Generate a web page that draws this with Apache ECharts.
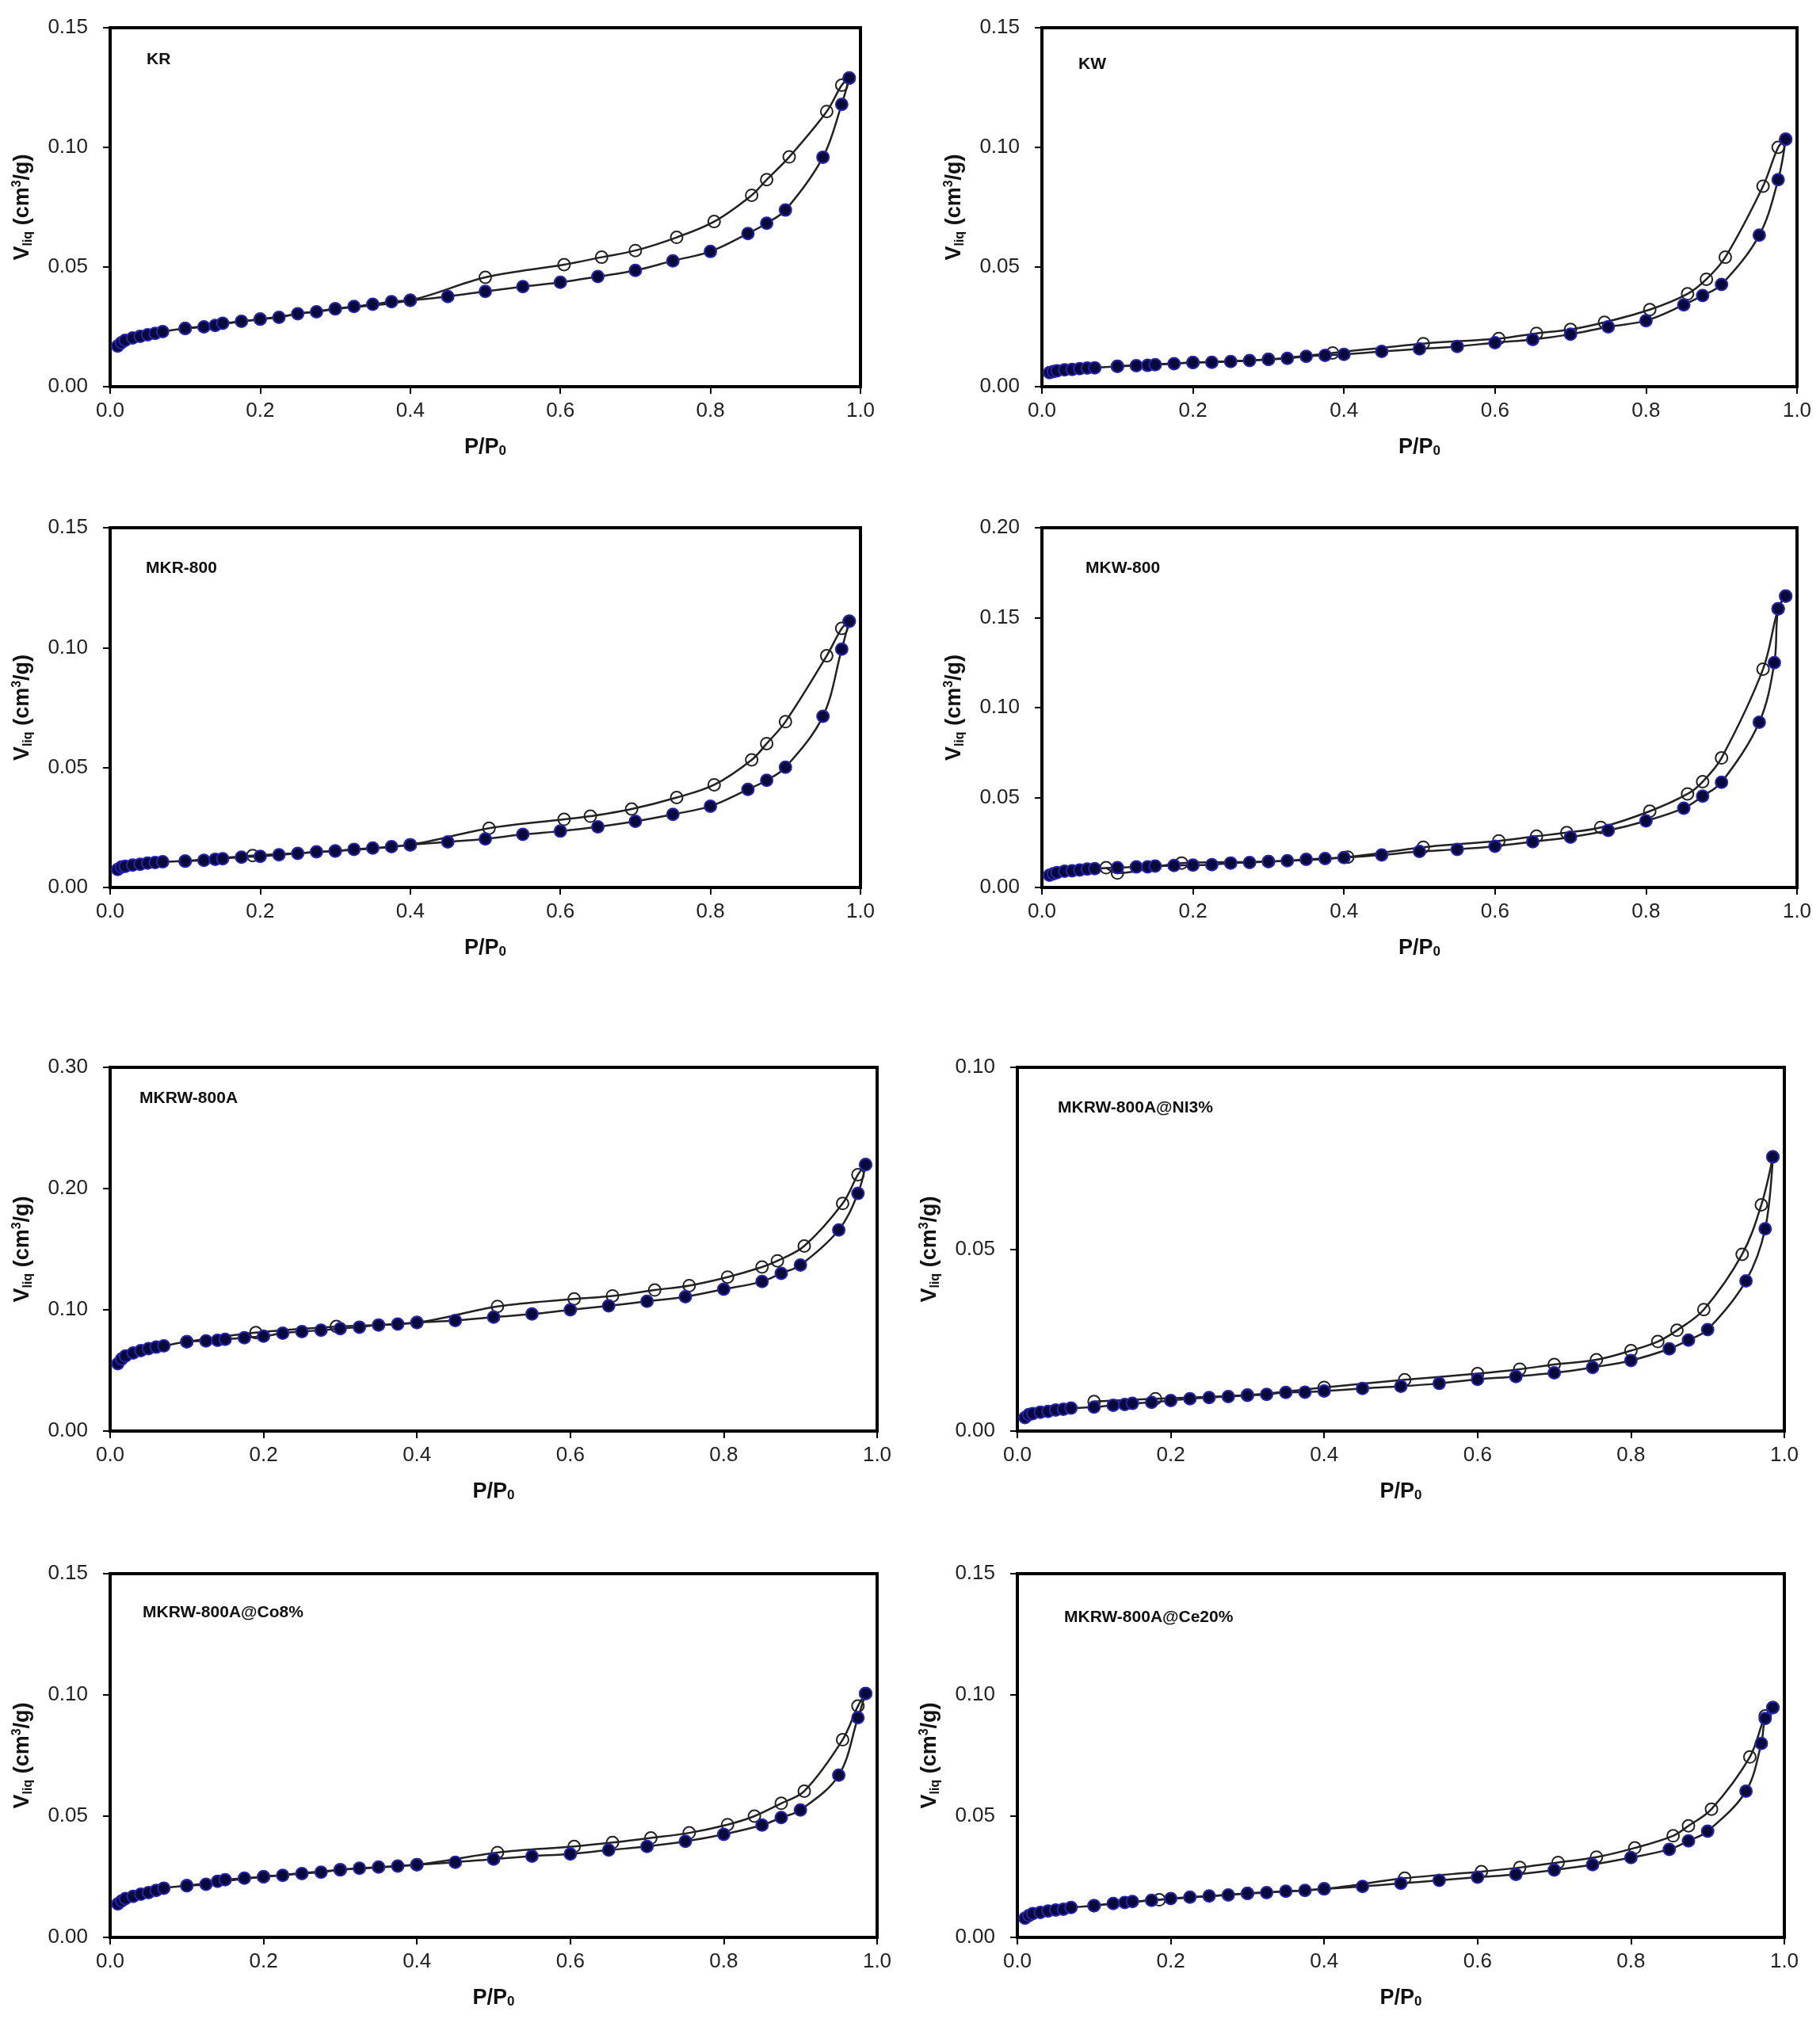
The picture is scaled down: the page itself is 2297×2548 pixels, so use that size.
<!DOCTYPE html>
<html>
<head>
<meta charset="utf-8">
<script src="https://cdn.jsdelivr.net/npm/echarts@6/dist/echarts.min.js"></script>
<style>
  html, body { margin: 0; padding: 0; background: #fff; }
  #chart { width: 2297px; height: 2548px; }
</style>
</head>
<body>
<div id="chart"></div>
<script>
// relative pressure steps used for the adsorption branch
const adsP = [0.01, 0.015, 0.02, 0.03, 0.04, 0.05, 0.06, 0.07, 0.10, 0.125, 0.14, 0.15, 0.175, 0.20, 0.225, 0.25, 0.275, 0.30, 0.325, 0.35, 0.375, 0.40, 0.45, 0.50, 0.55, 0.60, 0.65, 0.70, 0.75, 0.80, 0.85, 0.875, 0.90, 0.95, 0.975, 0.985];
const adsP37 = [0.01, 0.015, 0.02, 0.03, 0.04, 0.05, 0.06, 0.07, 0.10, 0.125, 0.14, 0.15, 0.175, 0.20, 0.225, 0.25, 0.275, 0.30, 0.325, 0.35, 0.375, 0.40, 0.45, 0.50, 0.55, 0.60, 0.65, 0.70, 0.75, 0.80, 0.85, 0.875, 0.90, 0.95, 0.97, 0.975, 0.985];

// KR
const krAdsV = [0.017, 0.0184, 0.0194, 0.0204, 0.021, 0.0217, 0.0223, 0.023, 0.0243, 0.025, 0.0256, 0.0265, 0.0273, 0.0282, 0.029, 0.0305, 0.0313, 0.0325, 0.0335, 0.0344, 0.0355, 0.0361, 0.0377, 0.0398, 0.0418, 0.0436, 0.046, 0.0486, 0.0526, 0.0565, 0.064, 0.0683, 0.0738, 0.0959, 0.118, 0.129];
const krDesP = [0.985, 0.975, 0.955, 0.905, 0.875, 0.855, 0.805, 0.755, 0.70, 0.655, 0.605, 0.50, 0.40, 0.30, 0.20, 0.10];
const krDesV = [0.129, 0.126, 0.115, 0.096, 0.0865, 0.080, 0.069, 0.0624, 0.0569, 0.0541, 0.051, 0.0457, 0.0361, 0.0325, 0.0282, 0.0243];

// KW
const kwAdsV = [0.0059, 0.0063, 0.0066, 0.007, 0.0072, 0.0075, 0.0078, 0.0079, 0.0085, 0.0088, 0.0089, 0.0092, 0.0096, 0.0101, 0.0102, 0.0105, 0.0109, 0.0114, 0.0118, 0.0127, 0.0131, 0.0135, 0.0147, 0.0158, 0.0168, 0.0184, 0.0197, 0.0219, 0.025, 0.0276, 0.0342, 0.0381, 0.0427, 0.0633, 0.0865, 0.1034];
const kwDesP = [0.985, 0.975, 0.955, 0.905, 0.88, 0.855, 0.805, 0.745, 0.70, 0.655, 0.605, 0.505, 0.385, 0.30, 0.20, 0.10];
const kwDesV = [0.1034, 0.100, 0.0838, 0.0541, 0.0449, 0.0388, 0.0322, 0.0269, 0.0239, 0.0223, 0.0201, 0.018, 0.0141, 0.0114, 0.0101, 0.0085];

// MKR-800
const mkrAdsV = [0.0075, 0.0085, 0.0088, 0.0093, 0.0097, 0.0102, 0.0104, 0.0107, 0.011, 0.0113, 0.0117, 0.012, 0.0126, 0.013, 0.0136, 0.0142, 0.0149, 0.0152, 0.0159, 0.0164, 0.017, 0.0178, 0.019, 0.0202, 0.0221, 0.0235, 0.0253, 0.0276, 0.0305, 0.0339, 0.0409, 0.0447, 0.0501, 0.0714, 0.0994, 0.111];
const mkrDesP = [0.985, 0.975, 0.955, 0.90, 0.875, 0.855, 0.805, 0.755, 0.695, 0.64, 0.605, 0.505, 0.40, 0.30, 0.19, 0.10];
const mkrDesV = [0.111, 0.108, 0.0966, 0.0691, 0.060, 0.0532, 0.0428, 0.0375, 0.0327, 0.0297, 0.0284, 0.0247, 0.0178, 0.0152, 0.0133, 0.011];

// MKW-800
const mkwAdsV = [0.0068, 0.0076, 0.0083, 0.009, 0.0093, 0.0097, 0.0102, 0.0105, 0.011, 0.0114, 0.0115, 0.0119, 0.0122, 0.0124, 0.0127, 0.0136, 0.0139, 0.0144, 0.0149, 0.0156, 0.0161, 0.0166, 0.0181, 0.02, 0.0212, 0.0229, 0.0254, 0.028, 0.0317, 0.037, 0.0441, 0.0508, 0.0585, 0.0919, 0.125, 0.155, 0.162];
const mkwDesP = [0.985, 0.975, 0.955, 0.90, 0.875, 0.855, 0.805, 0.74, 0.695, 0.655, 0.605, 0.505, 0.405, 0.30, 0.185, 0.10, 0.085];
const mkwDesV = [0.162, 0.155, 0.1214, 0.072, 0.0588, 0.052, 0.0424, 0.0334, 0.0305, 0.0285, 0.0259, 0.0224, 0.0169, 0.0144, 0.0136, 0.008, 0.011];

// MKRW-800A
const mkrwAdsV = [0.0556, 0.0594, 0.0619, 0.0644, 0.0664, 0.0679, 0.0692, 0.0702, 0.0737, 0.0744, 0.0749, 0.0757, 0.077, 0.0782, 0.0807, 0.082, 0.0832, 0.0845, 0.0857, 0.0875, 0.0882, 0.0895, 0.0912, 0.094, 0.0965, 0.10, 0.1033, 0.107, 0.1108, 0.117, 0.1233, 0.1301, 0.137, 0.1659, 0.196, 0.2198];
const mkrwDesP = [0.985, 0.975, 0.955, 0.905, 0.87, 0.85, 0.805, 0.755, 0.71, 0.655, 0.605, 0.505, 0.40, 0.295, 0.19, 0.10];
const mkrwDesV = [0.2198, 0.2115, 0.1877, 0.1526, 0.1404, 0.1353, 0.127, 0.12, 0.1163, 0.1115, 0.109, 0.1028, 0.0895, 0.0862, 0.0812, 0.0737];

// MKRW-800A@NI3%
const niAdsV = [0.0037, 0.0045, 0.0048, 0.0052, 0.0054, 0.0058, 0.006, 0.0063, 0.0066, 0.0071, 0.0073, 0.0076, 0.0079, 0.0084, 0.0089, 0.0092, 0.0095, 0.0098, 0.0101, 0.0106, 0.0107, 0.011, 0.0117, 0.0123, 0.0131, 0.0142, 0.015, 0.016, 0.0175, 0.0194, 0.0226, 0.025, 0.0279, 0.0413, 0.0556, 0.0754];
const niDesP = [0.985, 0.97, 0.945, 0.895, 0.86, 0.835, 0.80, 0.755, 0.70, 0.655, 0.60, 0.505, 0.40, 0.30, 0.18, 0.10];
const niDesV = [0.0754, 0.0622, 0.0486, 0.0334, 0.0277, 0.0246, 0.0221, 0.0196, 0.0183, 0.017, 0.0158, 0.0141, 0.012, 0.0099, 0.0089, 0.0081];

// MKRW-800A@Co8%
const coAdsV = [0.0138, 0.015, 0.016, 0.0169, 0.0178, 0.0185, 0.0194, 0.0203, 0.0213, 0.0219, 0.0231, 0.0238, 0.0244, 0.025, 0.0256, 0.0263, 0.0269, 0.0279, 0.0285, 0.029, 0.0294, 0.030, 0.031, 0.0323, 0.0335, 0.0344, 0.036, 0.0375, 0.0396, 0.0425, 0.0463, 0.0494, 0.0525, 0.0669, 0.0906, 0.1006];
const coDesP = [0.985, 0.975, 0.955, 0.905, 0.875, 0.84, 0.805, 0.755, 0.705, 0.655, 0.605, 0.505, 0.40, 0.30, 0.20, 0.10];
const coDesV = [0.1006, 0.0954, 0.0815, 0.0603, 0.0553, 0.050, 0.0465, 0.0431, 0.041, 0.0391, 0.0375, 0.035, 0.030, 0.0279, 0.025, 0.0213];

// MKRW-800A@Ce20%
const ceAdsV = [0.0079, 0.009, 0.0098, 0.0103, 0.0109, 0.0113, 0.0116, 0.0123, 0.0131, 0.014, 0.0144, 0.0148, 0.0153, 0.016, 0.0166, 0.0171, 0.0175, 0.0181, 0.0185, 0.019, 0.0194, 0.020, 0.021, 0.0223, 0.0235, 0.0248, 0.026, 0.0278, 0.030, 0.0329, 0.0363, 0.0398, 0.0438, 0.0603, 0.080, 0.0903, 0.0948];
const ceDesP = [0.985, 0.975, 0.955, 0.905, 0.875, 0.855, 0.805, 0.755, 0.705, 0.655, 0.605, 0.505, 0.40, 0.30, 0.185, 0.10];
const ceDesV = [0.0948, 0.0913, 0.0744, 0.0529, 0.046, 0.0419, 0.0369, 0.0331, 0.0309, 0.0288, 0.0271, 0.0244, 0.020, 0.0181, 0.0155, 0.0131];

const xTicks = [0, 0.2, 0.4, 0.6, 0.8, 1.0];

const zip = (p, v) => p.map((x, i) => [x, v[i]]);

// panels: name, y max, y step, data, box in px
const panels = [
    { name: 'KR', yMax: 0.15, yStep: 0.05, ads: zip(adsP, krAdsV), des: zip(krDesP, krDesV), box: [139, 35, 947, 453], lab: [180, 60] },
    { name: 'KW', yMax: 0.15, yStep: 0.05, ads: zip(adsP, kwAdsV), des: zip(kwDesP, kwDesV), box: [1315, 35, 953, 453], lab: [1356, 66] },
    { name: 'MKR-800', yMax: 0.15, yStep: 0.05, ads: zip(adsP, mkrAdsV), des: zip(mkrDesP, mkrDesV), box: [139, 666, 947, 454], lab: [179, 702] },
    { name: 'MKW-800', yMax: 0.20, yStep: 0.05, ads: zip(adsP37, mkwAdsV), des: zip(mkwDesP, mkwDesV), box: [1315, 666, 953, 454], lab: [1365, 702] },
    { name: 'MKRW-800A', yMax: 0.30, yStep: 0.10, ads: zip(adsP, mkrwAdsV), des: zip(mkrwDesP, mkrwDesV), box: [139, 1347, 968, 459], lab: [171, 1371] },
    { name: 'MKRW-800A@NI3%', yMax: 0.10, yStep: 0.05, ads: zip(adsP, niAdsV), des: zip(niDesP, niDesV), box: [1284, 1347, 968, 459], lab: [1330, 1383] },
    { name: 'MKRW-800A@Co8%', yMax: 0.15, yStep: 0.05, ads: zip(adsP, coAdsV), des: zip(coDesP, coDesV), box: [139, 1986, 968, 459], lab: [175, 2020] },
    { name: 'MKRW-800A@Ce20%', yMax: 0.15, yStep: 0.05, ads: zip(adsP37, ceAdsV), des: zip(ceDesP, ceDesV), box: [1284, 1986, 968, 459], lab: [1338, 2026] }
];

const FONT = 'Liberation Sans, Arial, sans-serif';
const axisLine = { show: true, onZero: false, lineStyle: { color: '#000', width: 4 } };
const axisTick = { show: true, inside: false, length: 9, lineStyle: { color: '#000', width: 2 } };

const grid = [], xAxis = [], yAxis = [], series = [], title = [];

panels.forEach((p, i) => {
    const [l, t, w, h] = p.box;
    grid.push({ left: l, top: t, width: w, height: h, show: true, borderColor: '#000', borderWidth: 4, backgroundColor: 'transparent' });
    xAxis.push({
        type: 'value', gridIndex: i, min: xTicks[0], max: xTicks[xTicks.length - 1], interval: 0.2,
        axisLine, axisTick, splitLine: { show: false },
        axisLabel: { margin: 18, color: '#222', fontSize: 26, fontFamily: FONT, formatter: v => v.toFixed(1) },
        name: '{b|P/P}{s|0}', nameLocation: 'middle', nameGap: 56,
        nameTextStyle: {
            rich: {
                b: { fontSize: 27, fontWeight: 'bold', fontFamily: FONT, color: '#111', lineHeight: 34, verticalAlign: 'bottom' },
                s: { fontSize: 17, fontWeight: 'bold', fontFamily: FONT, color: '#111', lineHeight: 34, verticalAlign: 'bottom', padding: [12, 0, 0, 0] }
            }
        }
    });
    yAxis.push({
        type: 'value', gridIndex: i, min: 0, max: p.yMax, interval: p.yStep,
        axisLine, axisTick, splitLine: { show: false },
        axisLabel: { margin: 28, color: '#222', fontSize: 26, fontFamily: FONT, formatter: v => v.toFixed(2) },
        name: '{b|V}{s|liq}{b| (cm}{u|3}{b|/g)}', nameLocation: 'middle', nameGap: 92, nameRotate: 90,
        nameTextStyle: {
            rich: {
                b: { fontSize: 27, fontWeight: 'bold', fontFamily: FONT, color: '#111', lineHeight: 36 },
                s: { fontSize: 16, fontWeight: 'bold', fontFamily: FONT, color: '#111', lineHeight: 36, padding: [14, 0, 0, 0] },
                u: { fontSize: 16, fontWeight: 'bold', fontFamily: FONT, color: '#111', lineHeight: 36, padding: [0, 0, 14, 0] }
            }
        }
    });
    title.push({
        text: p.name, left: p.lab[0], top: p.lab[1],
        textStyle: { fontSize: 21, fontWeight: 'bold', fontFamily: FONT, color: '#111' }
    });
    // desorption: open circles
    series.push({
        type: 'line', xAxisIndex: i, yAxisIndex: i, data: p.des, smooth: 0.35,
        symbol: 'circle', symbolSize: 15, z: 2,
        lineStyle: { color: '#222', width: 2.5 },
        itemStyle: { color: 'rgba(255,255,255,0)', borderColor: '#222', borderWidth: 2 }
    });
    // adsorption: filled circles
    series.push({
        type: 'line', xAxisIndex: i, yAxisIndex: i, data: p.ads, smooth: 0.35,
        symbol: 'circle', symbolSize: 15, z: 3,
        lineStyle: { color: '#222', width: 2.5 },
        itemStyle: { color: '#0a0a3a', borderColor: '#2424b0', borderWidth: 2 }
    });
});

const chart = echarts.init(document.getElementById('chart'));
chart.setOption({
    animation: false,
    backgroundColor: '#fff',
    title, grid, xAxis, yAxis, series
});
</script>
</body>
</html>
